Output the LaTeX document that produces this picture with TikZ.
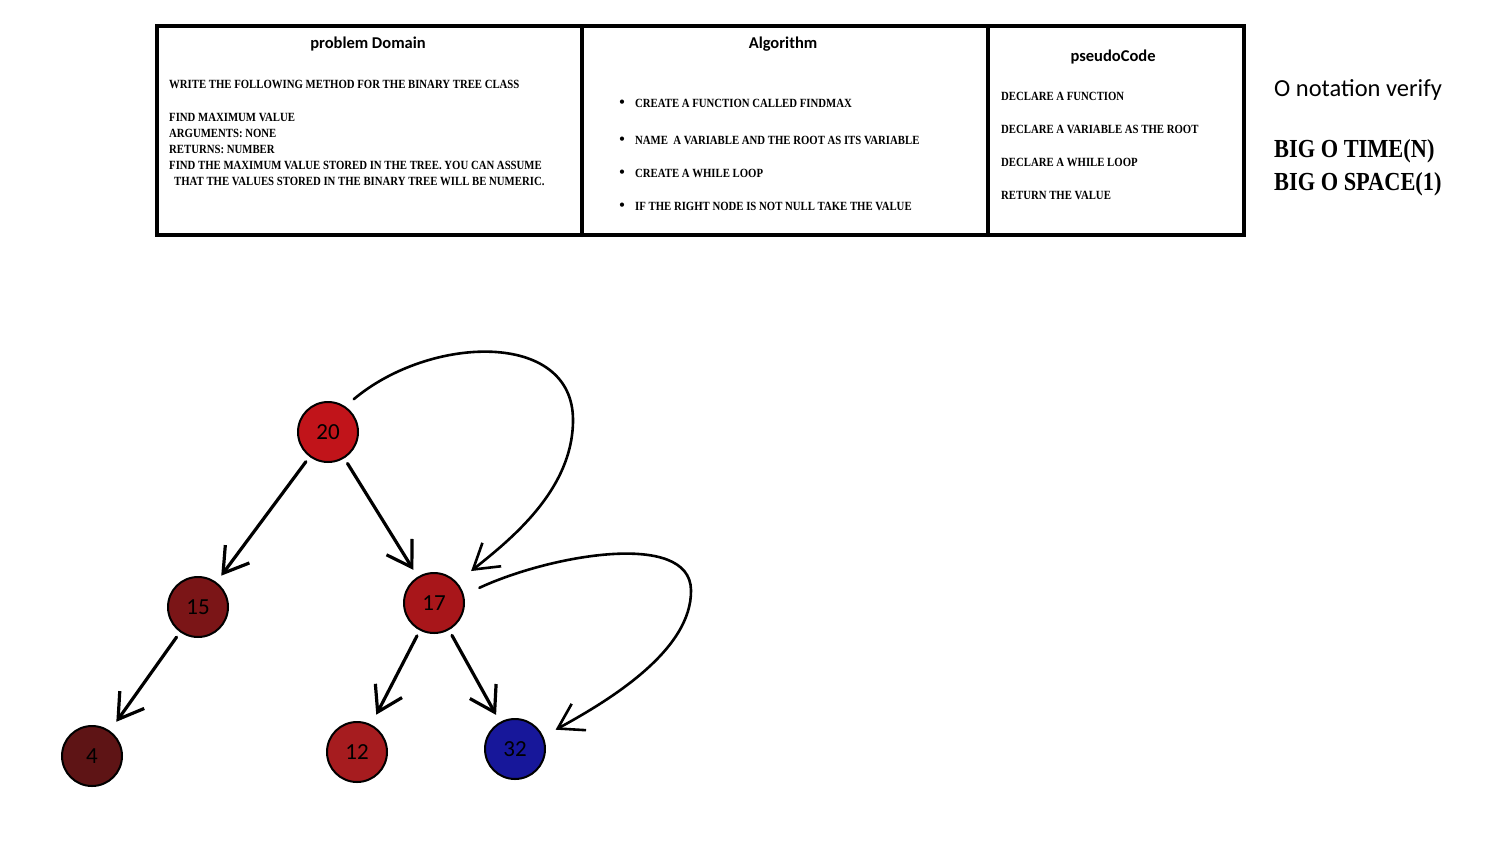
\documentclass[tikz,border=0pt]{standalone}
\usepackage{fontspec}
\setmainfont{Carlito}
\newfontfamily\capsfont[FakeStretch=0.86]{Liberation Serif}
\usetikzlibrary{arrows.meta,positioning}

\definecolor{rootred}{HTML}{C1141A}
\definecolor{leftred}{HTML}{7B1517}
\definecolor{midred}{HTML}{A8161A}
\definecolor{darkred}{HTML}{5E1415}
\definecolor{lowred}{HTML}{A61C1F}
\definecolor{maxblue}{HTML}{17179A}

\begin{document}
\begin{tikzpicture}[x=1pt, y=-1pt, line cap=round,
    every node/.append style={inner sep=0pt}]
  \tikzstyle{heading} = [font=\fontsize{16.5}{19}\selectfont\bfseries]
  \tikzstyle{caps} = [font=\capsfont\bfseries\fontsize{12.5}{15}\selectfont, anchor=west]
  \tikzstyle{bigcaps} = [font=\capsfont\bfseries\fontsize{26}{30}\selectfont, anchor=west]
  \tikzstyle{tnode} = [circle, draw=black, line width=2pt, minimum size=60pt,
    font=\fontsize{23}{25}\selectfont]
  \tikzstyle{edge} = [line width=3.2pt, shorten <=6pt, shorten >=8pt,
    -{Straight Barb[length=24pt,width=30pt]}]
  \tikzstyle{loop} = [line width=2.6pt,
    -{Straight Barb[length=24pt,width=30pt]}]
  \useasboundingbox (0,0) rectangle (1507,852);

  % table of the three columns
  \draw[line width=4pt] (157,26) rectangle (1244,235);
  \draw[line width=4pt] (582,26) -- (582,235) (988,26) -- (988,235);

  \node (domain) [heading] at (368,44) {problem Domain};
  \node (algo) [heading] at (783,44) {Algorithm};
  \node (pseudo) [heading] at (1113,57) {pseudoCode};

  \node (d1) [caps] at (169,84) {WRITE THE FOLLOWING METHOD FOR THE BINARY TREE CLASS};
  \node (d2) [caps] at (169,117) {FIND MAXIMUM VALUE};
  \node (d3) [caps] at (169,133) {ARGUMENTS: NONE};
  \node (d4) [caps] at (169,149) {RETURNS: NUMBER};
  \node (d5) [caps] at (169,165) {FIND THE MAXIMUM VALUE STORED IN THE TREE. YOU CAN ASSUME};
  \node (d6) [caps] at (174,181) {THAT THE VALUES STORED IN THE BINARY TREE WILL BE NUMERIC.};

  \foreach \y/\txt [count=\i] in {103/CREATE A FUNCTION CALLED FINDMAX,
      140/NAME\ \ A VARIABLE AND THE ROOT AS ITS VARIABLE,
      173/CREATE A WHILE LOOP,
      206/IF THE RIGHT NODE IS NOT NULL TAKE THE VALUE} {
    \node (b\i) [font=\fontsize{12}{14}\selectfont] at (622,\y) {\textbullet};
    \node (a\i) [caps] at (635,\y) {\txt};
  }

  \node (p1) [caps] at (1001,96) {DECLARE A FUNCTION};
  \node (p2) [caps] at (1001,129) {DECLARE A VARIABLE AS THE ROOT};
  \node (p3) [caps] at (1001,162) {DECLARE A WHILE LOOP};
  \node (p4) [caps] at (1001,195) {RETURN THE VALUE};

  \node (onote) [anchor=west, font=\fontsize{24.5}{28}\selectfont] at (1274,90) {O notation verify};
  \node (otime) [bigcaps] at (1274,151) {BIG O TIME(N)};
  \node (ospace) [bigcaps] at (1274,184) {BIG O SPACE(1)};

  % the tree
  \node (n20) [tnode, fill=rootred] at (328,432) {20};
  \node (n15) [tnode, fill=leftred] at (198,607) {15};
  \node (n17) [tnode, fill=midred] at (434,603) {17};
  \node (n4) [tnode, fill=darkred] at (92,756) {4};
  \node (n12) [tnode, fill=lowred] at (357,752) {12};
  \node (n32) [tnode, fill=maxblue] at (515,749) {32};

  \draw[edge] (n20) -- (n15);
  \draw[edge] (n20) -- (n17);
  \draw[edge, shorten >=11pt] (n15) -- (n4);
  \draw[edge, shorten >=11pt] (n17) -- (n12);
  \draw[edge] (n17) -- (n32);

  \coordinate (bendA) at (573,420);
  \coordinate (bendB) at (691,590);
  \draw[loop, shorten <=11pt, shorten >=18pt] (n20.56)
    .. controls (430,335) and (573,330) .. (bendA)
    .. controls (573,490) and (510,540) .. (n17.42);
  \draw[loop, shorten <=17pt, shorten >=14pt] (n17.15)
    .. controls (550,555) and (690,530) .. (bendB)
    .. controls (692,650) and (610,700) .. (n32.24);
\end{tikzpicture}
\end{document}
